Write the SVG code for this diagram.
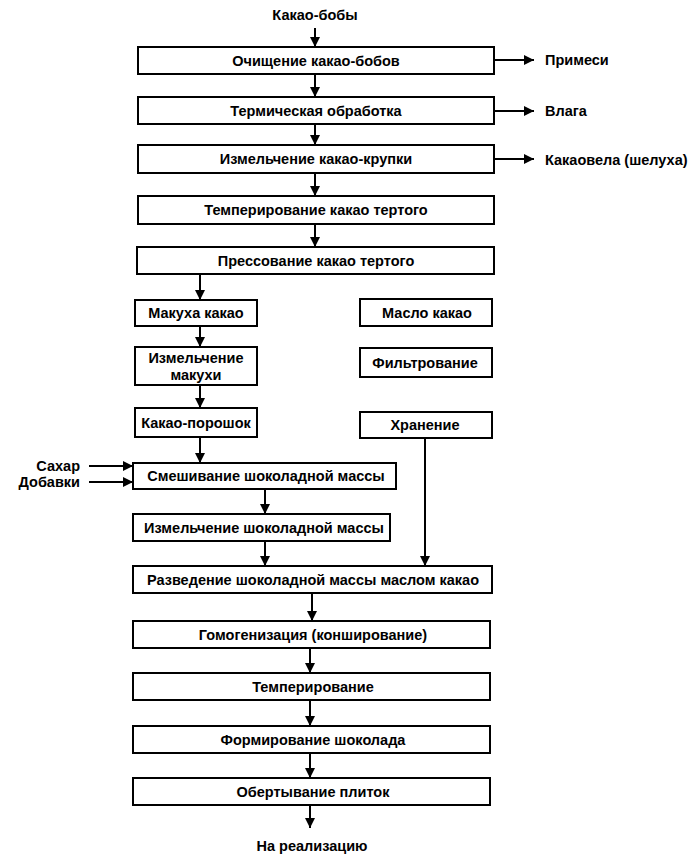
<svg xmlns="http://www.w3.org/2000/svg" width="700" height="860" viewBox="0 0 700 860">
<defs>
<marker id="ah" viewBox="0 0 10 10" refX="10" refY="5" markerWidth="10" markerHeight="10" markerUnits="userSpaceOnUse" orient="auto">
<path d="M0,0 L10,5 L0,10 z" fill="#000"/>
</marker>
<style>
rect{fill:#fff;stroke:#000;stroke-width:2}
text{font-family:"Liberation Sans",Arial,sans-serif;font-weight:bold;font-size:14.5px;fill:#000;dominant-baseline:central}
.c{text-anchor:middle}
.r{text-anchor:end}
#connectors line,#connectors path{stroke:#000;stroke-width:2;fill:none;marker-end:url(#ah)}
</style>
</defs>
<rect x="0" y="0" width="700" height="860" style="fill:#fff;stroke:none"/>
<g id="connectors">
<line x1="315" y1="28" x2="315" y2="47"/>
<line x1="315" y1="74" x2="315" y2="97"/>
<line x1="315" y1="124" x2="315" y2="145"/>
<line x1="315" y1="173" x2="315" y2="196"/>
<line x1="315" y1="224" x2="315" y2="247"/>
<line x1="494" y1="60" x2="534" y2="60"/>
<line x1="494" y1="111" x2="534" y2="111"/>
<line x1="494" y1="159" x2="534" y2="159"/>
<line x1="200" y1="274" x2="200" y2="300"/>
<line x1="200" y1="326" x2="200" y2="347"/>
<line x1="200" y1="385" x2="200" y2="408"/>
<line x1="200" y1="437" x2="200" y2="463"/>
<line x1="89" y1="466" x2="133" y2="466"/>
<line x1="89" y1="482" x2="133" y2="482"/>
<line x1="265" y1="489" x2="265" y2="514"/>
<line x1="265" y1="541" x2="265" y2="566"/>
<line x1="425" y1="438" x2="425" y2="566"/>
<line x1="312" y1="593" x2="312" y2="621"/>
<line x1="310" y1="648" x2="310" y2="673"/>
<line x1="310" y1="700" x2="310" y2="726"/>
<line x1="310" y1="753" x2="310" y2="778"/>
<line x1="310" y1="805" x2="310" y2="828"/>
</g>
<g id="input"><text class="c" x="315" y="15">Какао-бобы</text></g>
<g id="n1"><rect x="138" y="47" width="356" height="27"/><text class="c" x="316" y="60.5">Очищение какао-бобов</text></g>
<g id="n2"><rect x="138" y="97" width="356" height="27"/><text class="c" x="316" y="110.5">Термическая обработка</text></g>
<g id="n3"><rect x="138" y="145" width="356" height="28"/><text class="c" x="316" y="159">Измельчение какао-крупки</text></g>
<g id="n4"><rect x="138" y="196" width="356" height="28"/><text class="c" x="316" y="210">Темперирование какао тертого</text></g>
<g id="n5"><rect x="137" y="247" width="357" height="27"/><text class="c" x="316" y="260.5">Прессование какао тертого</text></g>
<g id="o1"><text x="545" y="60">Примеси</text></g>
<g id="o2"><text x="545" y="111">Влага</text></g>
<g id="o3"><text x="545" y="160">Какаовела (шелуха)</text></g>
<g id="m1"><rect x="135" y="300" width="122" height="26"/><text class="c" x="196" y="313">Макуха какао</text></g>
<g id="m2"><rect x="135" y="347" width="122" height="38"/><text class="c" x="196" y="358">Измельчение</text><text class="c" x="196" y="375">макухи</text></g>
<g id="m3"><rect x="135" y="408" width="122" height="29"/><text class="c" x="196" y="422.5">Какао-порошок</text></g>
<g id="b1"><rect x="360" y="299" width="132" height="27"/><text class="c" x="427" y="312.5">Масло какао</text></g>
<g id="b2"><rect x="360" y="348" width="132" height="29"/><text class="c" x="425" y="362.5">Фильтрование</text></g>
<g id="b3"><rect x="360" y="412" width="132" height="26"/><text class="c" x="425" y="425">Хранение</text></g>
<g id="s1"><text class="r" x="80" y="466">Сахар</text></g>
<g id="s2"><text class="r" x="80" y="482">Добавки</text></g>
<g id="n6"><rect x="133" y="463" width="263" height="26"/><text class="c" x="266" y="476">Смешивание шоколадной массы</text></g>
<g id="n7"><rect x="133" y="514" width="257" height="27"/><text class="c" x="264" y="527.5">Измельчение шоколадной массы</text></g>
<g id="n8"><rect x="133" y="566" width="359" height="27"/><text class="c" x="313" y="579.5">Разведение шоколадной массы маслом какао</text></g>
<g id="n9"><rect x="133" y="621" width="357" height="27"/><text class="c" x="313" y="634.5">Гомогенизация (конширование)</text></g>
<g id="n10"><rect x="133" y="673" width="357" height="27"/><text class="c" x="313" y="686.5">Темперирование</text></g>
<g id="n11"><rect x="133" y="726" width="357" height="27"/><text class="c" x="313" y="739.5">Формирование шоколада</text></g>
<g id="n12"><rect x="133" y="778" width="357" height="27"/><text class="c" x="313" y="791.5">Обертывание плиток</text></g>
<g id="output"><text class="c" x="312" y="846">На реализацию</text></g>
</svg>
